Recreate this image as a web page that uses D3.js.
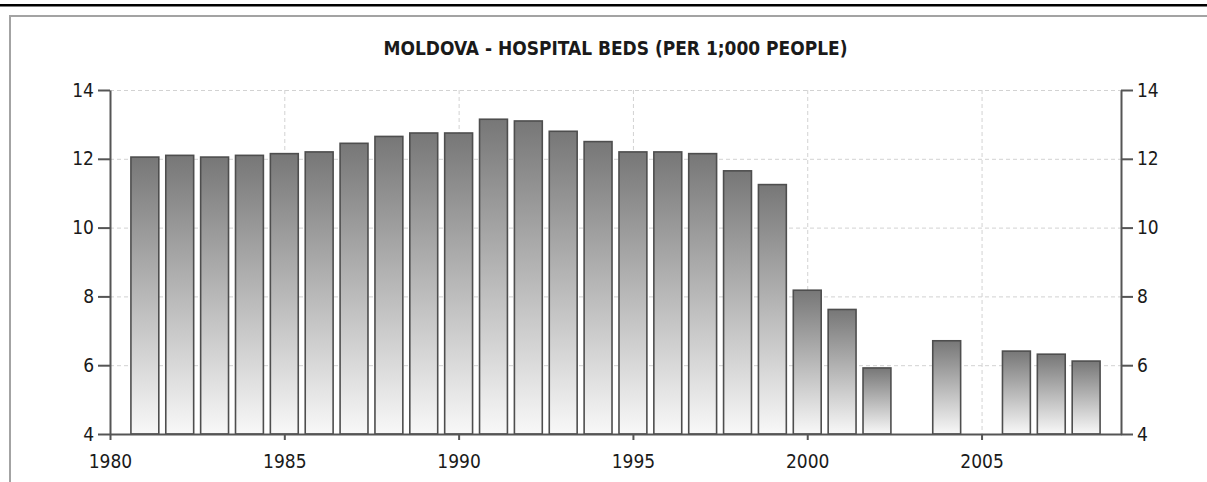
<!DOCTYPE html>
<html>
<head>
<meta charset="utf-8">
<script src="https://cdn.jsdelivr.net/npm/d3@7"></script>
<style>
  body { margin: 0; background: #fff; }
  svg { display: block; font-family: "DejaVu Sans Condensed", "DejaVu Sans", sans-serif; }
</style>
</head>
<body>
<div id="chart"></div>
<script>
// données
var years  = [1981, 1982, 1983, 1984, 1985, 1986, 1987, 1988, 1989, 1990,
              1991, 1992, 1993, 1994, 1995, 1996, 1997, 1998, 1999, 2000,
              2001, 2002, 2004, 2006, 2007, 2008];
var beds   = [12.05, 12.1, 12.05, 12.1, 12.15, 12.2, 12.45, 12.65, 12.75, 12.75,
              13.15, 13.1, 12.8, 12.5, 12.2, 12.2, 12.15, 11.65, 11.25, 8.18,
              7.62, 5.92, 6.71, 6.41, 6.32, 6.12];
var xTicks = [1980, 1985, 1990, 1995, 2000, 2005];
var yTicks = [4, 6, 8, 10, 12, 14];
var title  = "MOLDOVA - HOSPITAL BEDS (PER 1;000 PEOPLE)";

var W = 1207, H = 482;
var margin = {top: 90, right: 86, bottom: 48, left: 110},
    width = W - margin.left - margin.right,
    height = H - margin.top - margin.bottom;

var root = d3.select("#chart").append("svg")
  .attr("width", W)
  .attr("height", H);

// bordure du haut + cadre gris
root.append("rect")
  .attr("x", 0).attr("y", 4).attr("width", W).attr("height", 2.5)
  .attr("fill", "#000");
root.append("rect")
  .attr("x", 10).attr("y", 16).attr("width", W + 20).attr("height", H)
  .attr("fill", "none")
  .attr("stroke", "#a3a3a3")
  .attr("stroke-width", 2);

var defs = root.append("defs");
var grad = defs.append("linearGradient")
  .attr("id", "barGrad")
  .attr("x1", 0).attr("y1", 0).attr("x2", 0).attr("y2", 1);
grad.append("stop").attr("offset", "0%").attr("stop-color", "#777");
grad.append("stop").attr("offset", "100%").attr("stop-color", "#f8f8f8");

var svg = root.append("g")
  .attr("transform", "translate(" + margin.left + "," + margin.top + ")");

var x = d3.scaleLinear().domain([1980, 2009]).range([0, width]);
var y = d3.scaleLinear().domain([4, 14]).range([height, 0]);

// grille
svg.append("g").selectAll("line")
  .data(yTicks.filter(function(d) { return d > 4; }))
  .join("line")
  .attr("x1", 0).attr("x2", width)
  .attr("y1", function(d) { return y(d) + 0.5; })
  .attr("y2", function(d) { return y(d) + 0.5; })
  .attr("stroke", "#d2d2d2")
  .attr("stroke-dasharray", "4,3");
svg.append("g").selectAll("line")
  .data(xTicks.filter(function(d) { return d > 1980; }))
  .join("line")
  .attr("x1", function(d) { return x(d) + 0.5; })
  .attr("x2", function(d) { return x(d) + 0.5; })
  .attr("y1", 0).attr("y2", height)
  .attr("stroke", "#d2d2d2")
  .attr("stroke-dasharray", "4,3");

// barres
var bw = (x(1981) - x(1980)) * 0.8;
svg.append("g").selectAll("rect")
  .data(years)
  .join("rect")
  .attr("x", function(d) { return x(d) - bw / 2; })
  .attr("y", function(d, i) { return y(beds[i]); })
  .attr("width", bw)
  .attr("height", function(d, i) { return height - y(beds[i]); })
  .attr("fill", "url(#barGrad)")
  .attr("stroke", "#4e4e4e")
  .attr("stroke-width", 1.6);

// axes
function styleAxis(g) {
  g.attr("font-family", null).attr("font-size", null);
  g.select(".domain").attr("stroke", "#555").attr("stroke-width", 2);
  g.selectAll(".tick line").attr("stroke", "#555").attr("stroke-width", 2);
  g.selectAll("text").attr("fill", "#1a1a1a").style("font-size", "19px");
}

svg.append("g")
  .call(d3.axisLeft(y).tickValues(yTicks).tickSize(12).tickSizeOuter(0).tickPadding(4))
  .call(styleAxis);

svg.append("g")
  .attr("transform", "translate(" + width + ",0)")
  .call(d3.axisRight(y).tickValues(yTicks).tickSize(12).tickSizeOuter(0).tickPadding(4))
  .call(styleAxis);

svg.append("g")
  .attr("transform", "translate(0," + height + ")")
  .call(d3.axisBottom(x).tickValues(xTicks).tickFormat(d3.format("d")).tickSize(6).tickSizeOuter(0).tickPadding(15))
  .call(styleAxis);

// titre
svg.append("text")
  .attr("x", width / 2)
  .attr("y", 55 - margin.top)
  .attr("text-anchor", "middle")
  .attr("fill", "#1a1a1a")
  .style("font-size", "19px")
  .style("font-weight", "bold")
  .attr("textLength", 464)
  .attr("lengthAdjust", "spacingAndGlyphs")
  .text(title);
</script>
</body>
</html>
